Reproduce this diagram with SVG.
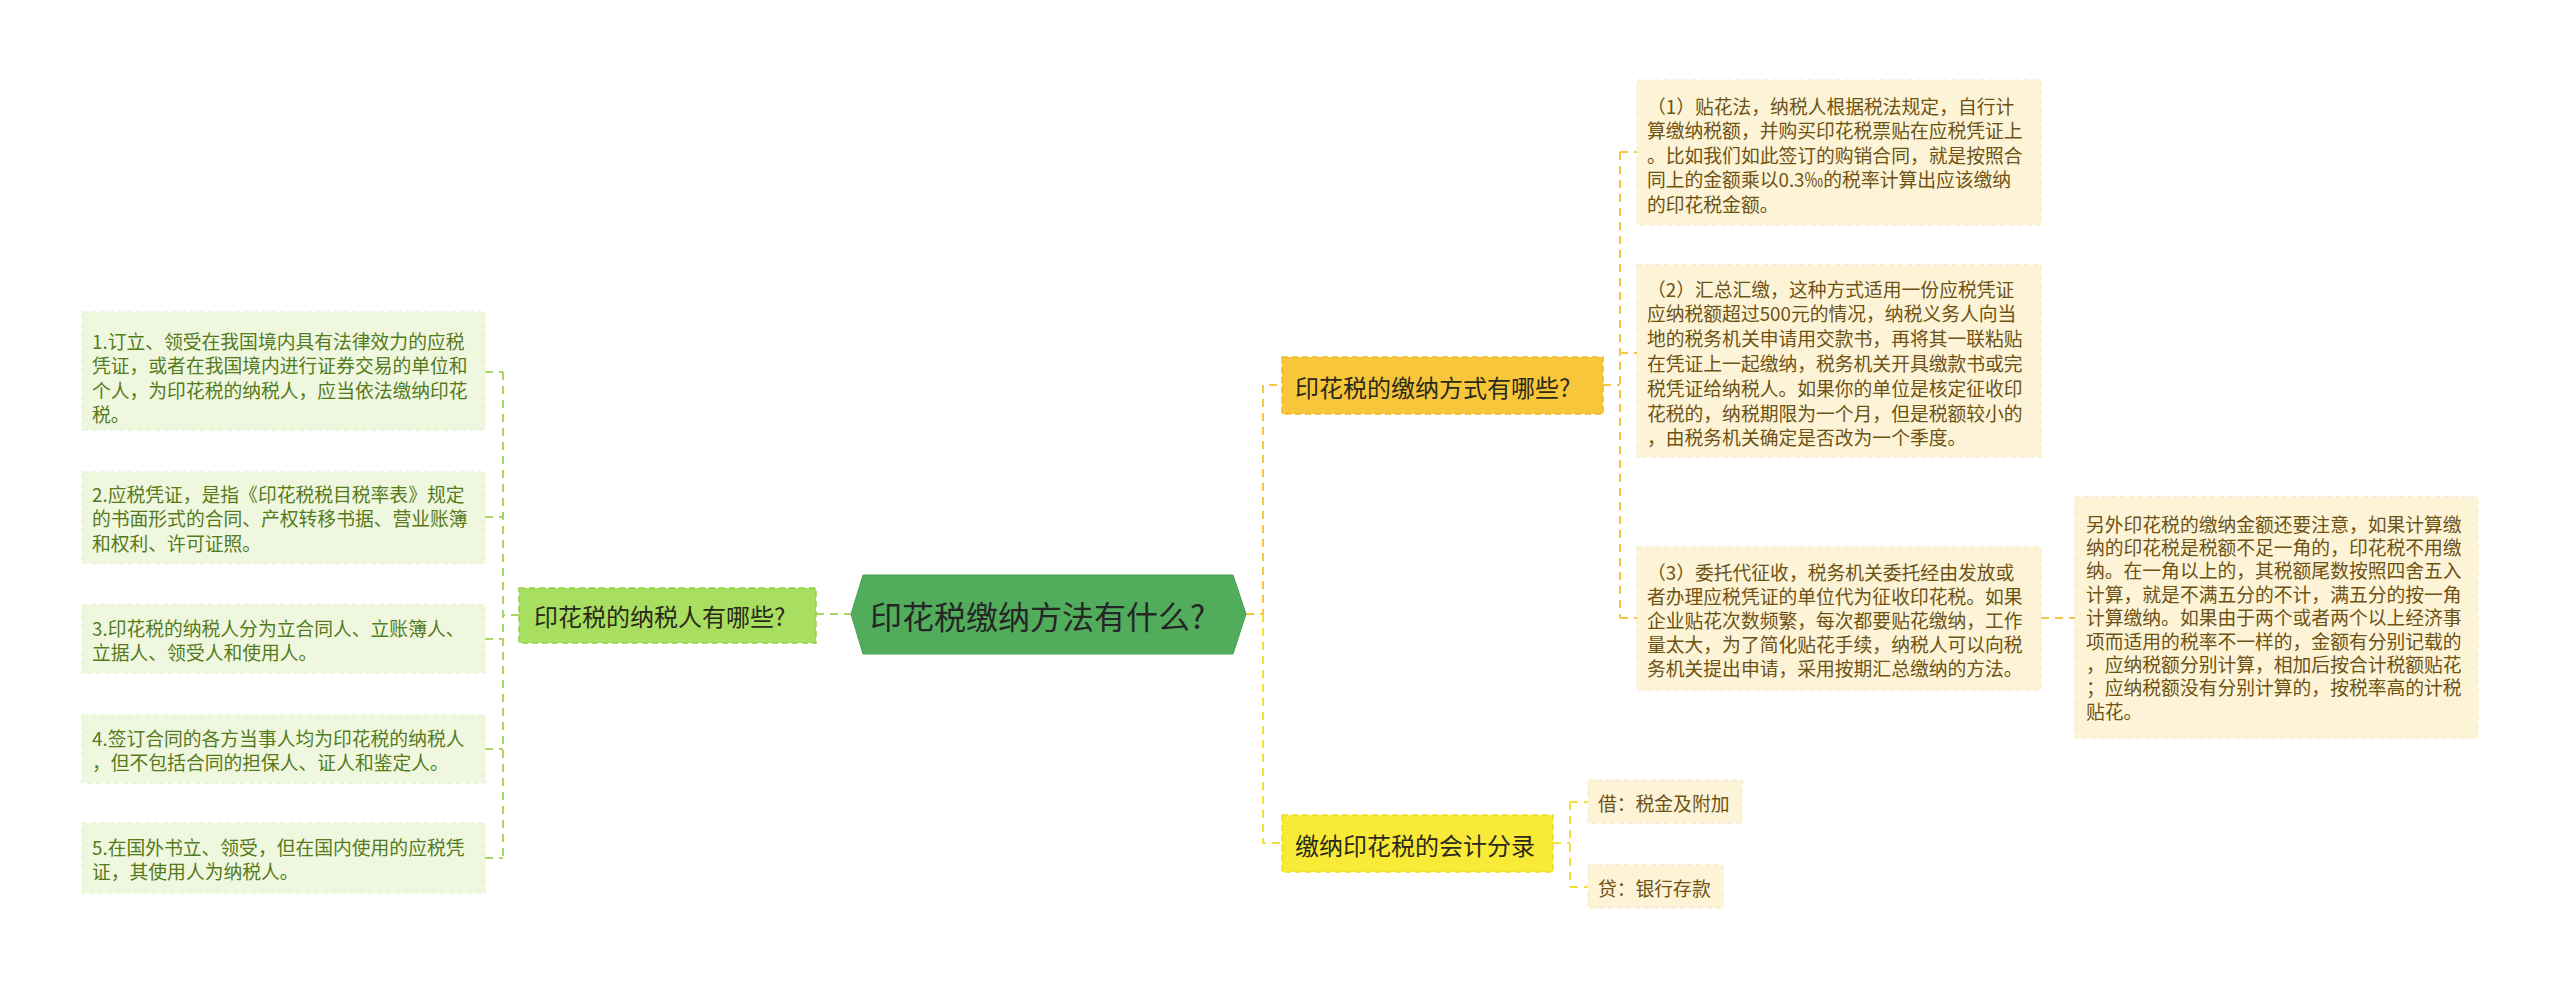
<svg xmlns="http://www.w3.org/2000/svg" width="2560" height="991" viewBox="0 0 2560 991">
<style>
text{font-family:"Noto Sans CJK SC","Noto Sans",sans-serif;dominant-baseline:central}
.lf{fill:#eff8df;stroke:#e8f4d5;stroke-width:1.5;stroke-dasharray:5 4}
.lt{font-size:18.8px;fill:#557a1c}
.rf{fill:#fdf4d7;stroke:#f9eed0;stroke-width:1.5;stroke-dasharray:5 4}
.rt{font-size:18.8px;fill:#6d5214}
.bt{font-size:24px;fill:#2a2a1a}
.cg{fill:none;stroke:#a9d563;stroke-width:2;stroke-dasharray:8 6}
.co{fill:none;stroke:#f3c645;stroke-width:2;stroke-dasharray:8 6}
.cy{fill:none;stroke:#efe03c;stroke-width:2;stroke-dasharray:8 6}
</style>
<rect width="2560" height="991" fill="#ffffff"/>
<g id="connectors">
<path class="cg" d="M816 614H851"/>
<path class="cg" d="M519 615H503M503 372V858M485 372H503M485 517H503M485 639H503M485 749H503M485 858H503"/>
<path class="co" d="M1246 614H1263V385H1282"/>
<path class="cy" d="M1263 614V843H1282"/>
<path class="co" d="M1603 385H1620M1620 152V618M1620 152H1637M1620 353H1637M1620 618H1637M2041 618H2075"/>
<path class="cy" d="M1553 843H1570M1570 802V887M1570 802H1588M1570 887H1588"/>
</g>
<g id="root">
<polygon points="851,614 863,575 1233,575 1246,614 1233,654 863,654" fill="#51ad5b" stroke="#4aa054" stroke-width="1"/>
<text x="870" y="615" style="font-size:32px;fill:#262626">印花税缴纳方法有什么?</text>
</g>
<g id="branch-taxpayers">
<rect x="519" y="588" width="297" height="55" fill="#a9df60" stroke="#93cf48" stroke-width="1.5" stroke-dasharray="6 4"/>
<text class="bt" x="534" y="615">印花税的纳税人有哪些?</text>
</g>
<g id="branch-methods">
<rect x="1282" y="357" width="321" height="57" fill="#f8c63a" stroke="#ebb82c" stroke-width="1.5" stroke-dasharray="6 4"/>
<text class="bt" x="1295" y="386">印花税的缴纳方式有哪些?</text>
</g>
<g id="branch-accounting">
<rect x="1282" y="815" width="271" height="57" fill="#f9ea37" stroke="#eadb25" stroke-width="1.5" stroke-dasharray="6 4"/>
<text class="bt" x="1295" y="844">缴纳印花税的会计分录</text>
</g>
<g id="left-1">
<rect class="lf" x="82" y="312" width="403" height="118"/>
<text class="lt" x="92" y="340">1.订立、领受在我国境内具有法律效力的应税</text>
<text class="lt" x="92" y="364.5">凭证，或者在我国境内进行证券交易的单位和</text>
<text class="lt" x="92" y="389">个人，为印花税的纳税人，应当依法缴纳印花</text>
<text class="lt" x="92" y="413.5">税。</text>
</g>
<g id="left-2">
<rect class="lf" x="82" y="472" width="403" height="91"/>
<text class="lt" x="92" y="493">2.应税凭证，是指《印花税税目税率表》规定</text>
<text class="lt" x="92" y="517.5">的书面形式的合同、产权转移书据、营业账簿</text>
<text class="lt" x="92" y="542">和权利、许可证照。</text>
</g>
<g id="left-3">
<rect class="lf" x="82" y="605" width="403" height="68"/>
<text class="lt" x="92" y="627">3.印花税的纳税人分为立合同人、立账簿人、</text>
<text class="lt" x="92" y="651.5">立据人、领受人和使用人。</text>
</g>
<g id="left-4">
<rect class="lf" x="82" y="715" width="403" height="68"/>
<text class="lt" x="92" y="737">4.签订合同的各方当事人均为印花税的纳税人</text>
<text class="lt" x="92" y="761.5">，但不包括合同的担保人、证人和鉴定人。</text>
</g>
<g id="left-5">
<rect class="lf" x="82" y="823" width="403" height="70"/>
<text class="lt" x="92" y="846">5.在国外书立、领受，但在国内使用的应税凭</text>
<text class="lt" x="92" y="870.5">证，其使用人为纳税人。</text>
</g>
<g id="right-1">
<rect class="rf" x="1637" y="80" width="404" height="145"/>
<text class="rt" x="1647" y="105">（1）贴花法，纳税人根据税法规定，自行计</text>
<text class="rt" x="1647" y="129.5">算缴纳税额，并购买印花税票贴在应税凭证上</text>
<text class="rt" x="1647" y="154">。比如我们如此签订的购销合同，就是按照合</text>
<text class="rt" x="1647" y="178.5">同上的金额乘以0.3‰的税率计算出应该缴纳</text>
<text class="rt" x="1647" y="203">的印花税金额。</text>
</g>
<g id="right-2">
<rect class="rf" x="1637" y="265" width="404" height="192"/>
<text class="rt" x="1647" y="288">（2）汇总汇缴，这种方式适用一份应税凭证</text>
<text class="rt" x="1647" y="312.8">应纳税额超过500元的情况，纳税义务人向当</text>
<text class="rt" x="1647" y="337.6">地的税务机关申请用交款书，再将其一联粘贴</text>
<text class="rt" x="1647" y="362.4">在凭证上一起缴纳，税务机关开具缴款书或完</text>
<text class="rt" x="1647" y="387.2">税凭证给纳税人。如果你的单位是核定征收印</text>
<text class="rt" x="1647" y="412">花税的，纳税期限为一个月，但是税额较小的</text>
<text class="rt" x="1647" y="436.8">，由税务机关确定是否改为一个季度。</text>
</g>
<g id="right-3">
<rect class="rf" x="1637" y="547" width="404" height="143"/>
<text class="rt" x="1647" y="571">（3）委托代征收，税务机关委托经由发放或</text>
<text class="rt" x="1647" y="595">者办理应税凭证的单位代为征收印花税。如果</text>
<text class="rt" x="1647" y="619">企业贴花次数频繁，每次都要贴花缴纳，工作</text>
<text class="rt" x="1647" y="643">量太大，为了简化贴花手续，纳税人可以向税</text>
<text class="rt" x="1647" y="667">务机关提出申请，采用按期汇总缴纳的方法。</text>
</g>
<g id="right-3-note">
<rect class="rf" x="2075" y="497" width="403" height="241"/>
<text class="rt" x="2086" y="523">另外印花税的缴纳金额还要注意，如果计算缴</text>
<text class="rt" x="2086" y="546.4">纳的印花税是税额不足一角的，印花税不用缴</text>
<text class="rt" x="2086" y="569.8">纳。在一角以上的，其税额尾数按照四舍五入</text>
<text class="rt" x="2086" y="593.2">计算，就是不满五分的不计，满五分的按一角</text>
<text class="rt" x="2086" y="616.6">计算缴纳。如果由于两个或者两个以上经济事</text>
<text class="rt" x="2086" y="640">项而适用的税率不一样的，金额有分别记载的</text>
<text class="rt" x="2086" y="663.4">，应纳税额分别计算，相加后按合计税额贴花</text>
<text class="rt" x="2086" y="686.8">；应纳税额没有分别计算的，按税率高的计税</text>
<text class="rt" x="2086" y="710.2">贴花。</text>
</g>
<g id="debit">
<rect class="rf" x="1588" y="780" width="154" height="43"/>
<text class="rt" x="1598" y="802">借：税金及附加</text>
</g>
<g id="credit">
<rect class="rf" x="1588" y="865" width="135" height="43"/>
<text class="rt" x="1598" y="887">贷：银行存款</text>
</g>
</svg>
